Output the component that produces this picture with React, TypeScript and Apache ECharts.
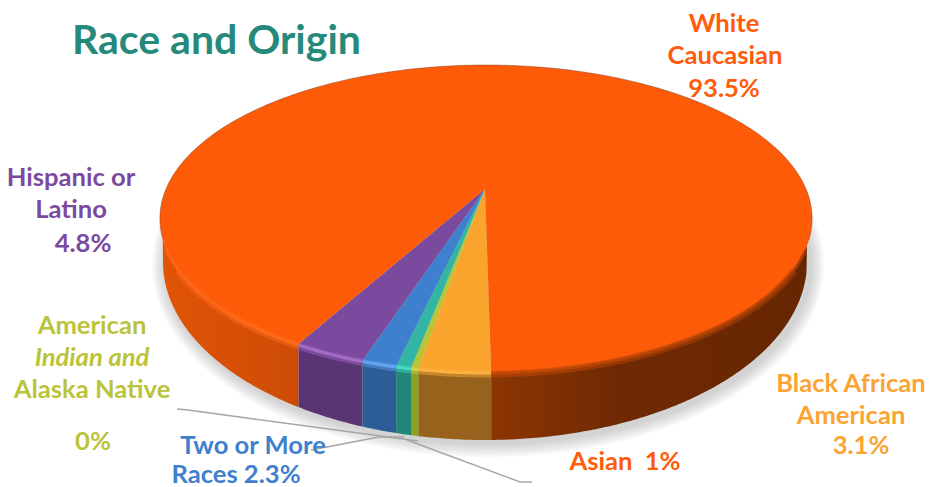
import React, { useEffect, useRef } from "react";
import * as echarts from "echarts";

const titleText = "Race and Origin";
// order: going clockwise on screen from the bottom of the disc
const categories = ["Black African American", "American Indian and Alaska Native", "Asian", "Two or More Races", "Hispanic or Latino", "White Caucasian"];
const printedPercent = ["3.1%", "0%", "1%", "2.3%", "4.8%", "93.5%"];
// slice sizes as drawn in the picture (share of the full circle, %)
const drawnShare = [2.95, 0.3, 0.62, 1.45, 3.0, 91.68];
const topColors = ["#FBA42D", "#B9C437", "#33B5A5", "#3F80CE", "#7A4A9E", "#FE5B09"];
const wallColors = ["#96621C", "#8FA020", "#1F8878", "#2C5D96", "#5A3573", "#000000"];
const rimColors = ["#FBB040", "#CBD545", "#45DBC5", "#5FA5F0", "#A56BC8", "#000000"];

const labelColors = { orange: "#FF5B0A", purple: "#7B4AA0", lime: "#BAC43A", blue: "#3F80CE", amber: "#FBA433" };

const labelLines = [
  { t: "White", x: 724, y: 22, c: labelColors.orange },
  { t: "Caucasian", x: 725, y: 54, c: labelColors.orange },
  { t: "93.5%", x: 724, y: 87, c: labelColors.orange },
  { t: "Hispanic or", x: 71, y: 176, c: labelColors.purple },
  { t: "Latino", x: 71, y: 208, c: labelColors.purple },
  { t: "4.8%", x: 83, y: 242, c: labelColors.purple },
  { t: "American", x: 92, y: 324, c: labelColors.lime },
  { t: "Indian and", x: 92, y: 356, c: labelColors.lime, italic: true },
  { t: "Alaska Native", x: 92, y: 388, c: labelColors.lime },
  { t: "0%", x: 93, y: 440, c: labelColors.lime },
  { t: "Two or More", x: 253, y: 444, c: labelColors.blue },
  { t: "Races 2.3%", x: 236, y: 473, c: labelColors.blue },
  { t: "Asian  1%", x: 625, y: 460, c: labelColors.orange },
  { t: "Black African", x: 851, y: 382, c: labelColors.amber },
  { t: "American", x: 851, y: 414, c: labelColors.amber },
  { t: "3.1%", x: 861, y: 444, c: labelColors.amber },
];

const leaderLines = [
  [[177, 409], [188, 410], [418, 441]],
  [[311, 450], [379, 437], [404, 437]],
  [[532, 482], [520, 482], [407, 440]],
];

// perspective disc
const APEX_X = 485, RIM_CX = 486, APEX_Y = 189, PC = -0.1922, PA = 111.5, PS = 320;
const START_DEG = -0.75;
const LOW_CX = 485, LOW_CY = 262, LOW_RY = 178, LOW_RX = 322;
const SHADOW_RINGS = [14, 12, 10, 8, 6, 4, 2];

const rimPoint = (deg: number) => {
  const r = (deg * Math.PI) / 180;
  const u = -Math.sin(r), v = Math.cos(r);
  const d = 1 + PC * v;
  return [RIM_CX + (PS * u) / d, (PA * v + APEX_Y) / d];
};
const lowY = (x: number, y: number) => {
  const q = (x - LOW_CX) / LOW_RX;
  if (Math.abs(q) >= 1) return y;
  return Math.max(y, LOW_CY + LOW_RY * Math.sqrt(1 - q * q));
};

const wallGradient = () =>
  new echarts.graphic.LinearGradient(160, 0, 810, 0, [
    { offset: 0, color: "#E25406" },
    { offset: 0.2, color: "#CE4C05" },
    { offset: 0.5, color: "#8E3603" },
    { offset: 0.7, color: "#6F2A03" },
    { offset: 1, color: "#662602" },
  ], true);
const rimGradient = (a: number) =>
  new echarts.graphic.LinearGradient(160, 0, 810, 0, [
    { offset: 0, color: `rgba(255,100,20,${a})` },
    { offset: 0.25, color: `rgba(255,110,30,${a})` },
    { offset: 0.5, color: `rgba(200,75,5,${a})` },
    { offset: 1, color: `rgba(170,62,4,${a})` },
  ], true);

const renderSlice = (params: any, api: any) => {
  const i = params.dataIndex;
  let before = 0;
  for (let k = 0; k < i; k++) before += drawnShare[k];
  const total = drawnShare.reduce((a, b) => a + b, 0);
  const from = START_DEG + (before / total) * 360;
  const to = from + (api.value(0) / total) * 360;
  const isWhite = i === drawnShare.length - 1;

  const arc: number[][] = [];
  const steps = Math.max(2, Math.ceil((to - from) * 2));
  for (let s = 0; s <= steps; s++) arc.push(rimPoint(from + ((to - from) * s) / steps));

  const children: any[] = [];
  const runsOf = (minY: number) => {
    const out: number[][][] = [];
    let cur: number[][] = [];
    arc.forEach((p) => {
      if (p[1] >= minY) cur.push(p);
      else if (cur.length) { out.push(cur); cur = []; }
    });
    if (cur.length) out.push(cur);
    return out;
  };
  runsOf(214).forEach((run) => {
    const poly = run.concat(run.slice().reverse().map((p) => [p[0], lowY(p[0], p[1])]));
    children.push({
      type: "polygon",
      shape: { points: poly },
      style: { fill: isWhite ? wallGradient() : wallColors[i] },
    });
  });
  // top surface
  children.push({
    type: "polygon",
    shape: { points: [[APEX_X, APEX_Y], ...arc] },
    style: { fill: topColors[i] },
  });
  // thin shaded edge along the back of the disc
  if (isWhite) {
    children.push({
      type: "polyline",
      shape: { points: arc.filter((p) => p[1] < 240) },
      style: { fill: "none", stroke: "rgba(120,60,30,0.45)", lineWidth: 1 },
    });
  }
  // soft bevel along the front rim
  runsOf(268).forEach((run) => {
    children.push({
      type: "polyline",
      shape: { points: run.map((p) => [p[0], p[1] + 2]) },
      style: { fill: "none", stroke: isWhite ? rimGradient(0.5) : rimColors[i], opacity: isWhite ? 1 : 0.45, lineWidth: 7 },
    });
  });
  runsOf(248).forEach((run) => {
    children.push({
      type: "polyline",
      shape: { points: run.map((p) => [p[0], p[1] + 1]) },
      style: { fill: "none", stroke: isWhite ? rimGradient(0.85) : rimColors[i], lineWidth: 3 },
    });
  });
  return { type: "group", children };
};

export default function App() {
  const ref = useRef<HTMLDivElement>(null);
  useEffect(() => {
    const chart = echarts.init(ref.current!, null, { renderer: "svg" });
    const font = "Lato";
    chart.setOption({
      animation: false,
      backgroundColor: "#ffffff",
      series: [
        {
          type: "custom",
          name: "Race and Origin",
          coordinateSystem: "none",
          renderItem: renderSlice,
          data: categories.map((name, i) => ({ name, value: [drawnShare[i], printedPercent[i]] })),
          z: 2,
          silent: true,
        },
      ],
      graphic: [
        ...SHADOW_RINGS.map((g) => ({
          type: "ellipse",
          z: -1,
          shape: { cx: LOW_CX + 3, cy: LOW_CY + 3, rx: LOW_RX + g, ry: LOW_RY + g },
          style: { fill: "rgba(120,120,135,0.055)" },
        })),
        {
          type: "text",
          x: 72,
          y: 38,
          z: 10,
          style: { text: titleText, fill: "#25897B", font: `bold 41px ${font}`, textAlign: "left", textVerticalAlign: "middle" },
        },
        ...leaderLines.map((points) => ({
          type: "polyline",
          z: 9,
          shape: { points },
          style: { fill: "none", stroke: "#A6A6A6", lineWidth: 1.5 },
        })),
        ...labelLines.map((l: any) => ({
          type: "text",
          x: l.x,
          y: l.y,
          z: 10,
          style: {
            text: l.t,
            fill: l.c,
            font: `${l.italic ? "italic " : ""}bold 25.6px ${font}`,
            textAlign: "center",
            textVerticalAlign: "middle",
          },
        })),
      ],
    });
    return () => chart.dispose();
  }, []);
  return <div ref={ref} style={{ position: "fixed", left: 0, top: 0, width: 943, height: 487 }} />;
}
